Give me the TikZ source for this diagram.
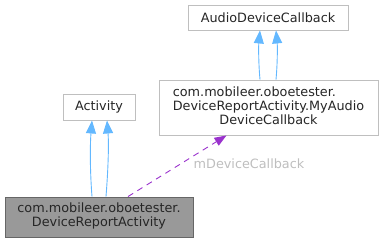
\documentclass[tikz,border=0pt]{standalone}
\usepackage{fontspec}
\setmainfont{DejaVu Sans}
\usetikzlibrary{arrows.meta}
\definecolor{boxline}{HTML}{BFBFBF}
\definecolor{mainfill}{HTML}{999999}
\definecolor{mainline}{HTML}{666666}
\definecolor{inhcol}{HTML}{63B8FF}
\definecolor{usecol}{HTML}{9A32CD}
\definecolor{lblcol}{HTML}{BEBEBE}
\tikzset{
  cls/.style={draw=boxline, fill=white, line width=0.9pt, inner sep=0pt,
    font=\fontsize{12.8}{14}\selectfont, text=black!85},
  maincls/.style={cls, draw=mainline, fill=mainfill},
  inh/.style={draw=inhcol, line width=0.9pt, -{Triangle[length=13pt,width=10pt]}},
  uses/.style={draw=usecol, line width=0.9pt, dash pattern=on 6pt off 5pt,
    -{Triangle[length=12pt,width=9pt]}},
  edgelbl/.style={font=\fontsize{12.8}{14}\selectfont, text=lblcol, inner sep=0pt}
}
\begin{document}
\begin{tikzpicture}[x=1pt,y=-1pt]
  \useasboundingbox (0,0) rectangle (383,243);
  % classes
  \node[cls, minimum width=160pt, minimum height=25pt] (adc) at (268,17.5) {AudioDeviceCallback};
  \node[cls, minimum width=219pt, minimum height=55pt] (myc) at (268.5,107.5)
    {\begin{tabular}{@{}l@{}}com.mobileer.oboetester.\\DeviceReportActivity.MyAudio\\\multicolumn{1}{@{}c@{}}{DeviceCallback}\end{tabular}};
  \node[cls, minimum width=72pt, minimum height=26pt] (act) at (99,107) {Activity};
  \node[maincls, minimum width=188pt, minimum height=40pt] (dra) at (99,217)
    {\begin{tabular}{@{}c@{}}com.mobileer.oboetester.\\DeviceReportActivity\end{tabular}};
  % inheritance
  \draw[inh] ([xshift=-7pt]dra.north) .. controls +(-2,-25) and +(-2,25) .. ([xshift=-7pt]act.south);
  \draw[inh] ([xshift=7pt]dra.north) .. controls +(2,-25) and +(2,25) .. ([xshift=8pt]act.south);
  \draw[inh] ([xshift=-8.5pt]myc.north) .. controls +(-1.5,-16) and +(-1.5,16) .. ([xshift=-8pt]adc.south);
  \draw[inh] ([xshift=7.5pt]myc.north) .. controls +(1.5,-16) and +(1.5,16) .. ([xshift=8pt]adc.south);
  % usage
  \coordinate (u0) at ([xshift=29pt]dra.north);
  \coordinate (u1) at ([xshift=-42pt]myc.south);
  \draw[uses] (u0) -- (u1);
  \node[edgelbl] (lbl) at (249,164) {mDeviceCallback};
\end{tikzpicture}
\end{document}
